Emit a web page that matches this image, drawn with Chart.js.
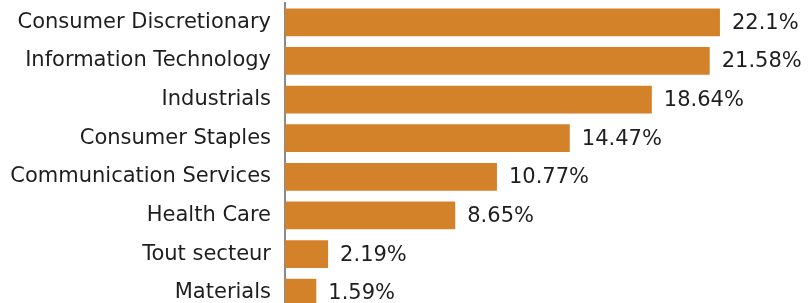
<!DOCTYPE html>
<html>
<head>
<meta charset="utf-8">
<script src="https://cdn.jsdelivr.net/npm/chart.js@4/dist/chart.umd.min.js"></script>
<style>
  html, body { margin: 0; padding: 0; background: #fff; overflow: hidden; }
  canvas { display: block; }
</style>
</head>
<body>
<canvas id="chart" width="808" height="315"></canvas>
<script>
/* ====================
   DATA
==================== */
const sectors = [
  "Consumer Discretionary",
  "Information Technology",
  "Industrials",
  "Consumer Staples",
  "Communication Services",
  "Health Care",
  "Tout secteur",
  "Materials"
];
const weights = [22.1, 21.58, 18.64, 14.47, 10.77, 8.65, 2.19, 1.59];

const BAR_COLOR = "#D3822A";
const TEXT_COLOR = "#1e1e1e";
const FONT = "'DejaVu Sans', Verdana, sans-serif";
const FONT_SIZE = 21;

/* ====================
   VALUE LABELS
==================== */
const valueLabels = {
  id: "valueLabels",
  afterDatasetsDraw(chart) {
    const ctx = chart.ctx;
    const meta = chart.getDatasetMeta(0);
    ctx.save();
    ctx.font = `${FONT_SIZE}px ${FONT}`;
    ctx.fillStyle = TEXT_COLOR;
    ctx.textAlign = "left";
    ctx.textBaseline = "middle";
    meta.data.forEach((bar, i) => {
      ctx.fillText(weights[i] + "%", bar.x + 12, bar.y + 1);
    });
    ctx.restore();
  }
};

/* ====================
   CHART
==================== */
new Chart(document.getElementById("chart"), {
  type: "bar",
  data: {
    labels: sectors,
    datasets: [{
      data: weights,
      backgroundColor: BAR_COLOR,
      borderWidth: 0,
      barPercentage: 0.72,
      categoryPercentage: 1
    }]
  },
  options: {
    indexAxis: "y",
    responsive: false,
    animation: false,
    layout: { padding: { top: 3, bottom: 3, left: 0, right: 31 } },
    plugins: {
      legend: { display: false },
      tooltip: { enabled: false }
    },
    scales: {
      x: {
        display: false,
        min: 0,
        max: 25
      },
      y: {
        afterFit(scale) {
          scale.width = 285;
          // labels sit in the category bands, no extra room needed above/below
          scale.paddingTop = 0;
          scale.paddingBottom = 0;
        },
        grid: { display: false, drawTicks: false },
        border: { display: true, color: "#8a8a8a", width: 2 },
        ticks: {
          color: TEXT_COLOR,
          padding: 14,
          font: { family: FONT, size: FONT_SIZE }
        }
      }
    }
  },
  plugins: [valueLabels]
});
</script>
</body>
</html>
